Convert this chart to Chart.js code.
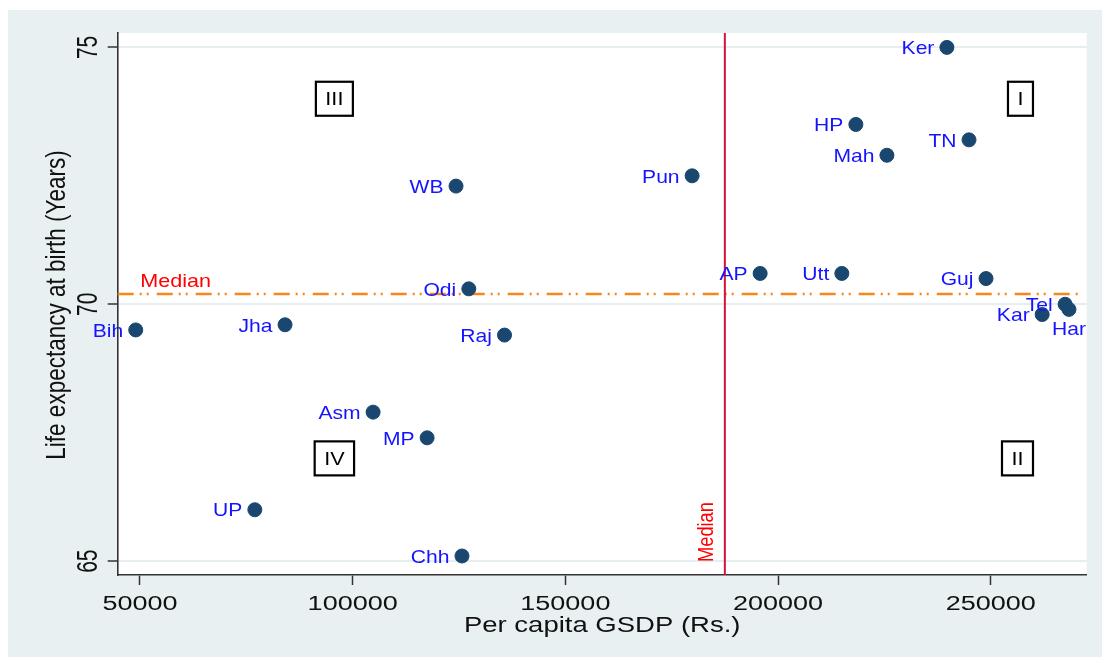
<!DOCTYPE html>
<html>
<head>
<meta charset="utf-8">
<script src="https://cdn.jsdelivr.net/npm/chart.js@4.4.0/dist/chart.umd.min.js"></script>
<style>
html,body{margin:0;padding:0;background:#ffffff;}
#wrap{width:1102px;height:657px;position:relative;}
</style>
</head>
<body>
<div id="wrap"><canvas id="c" width="1102" height="657"></canvas></div>
<script>
// ---------------- data ----------------
const states  = ['Ker','HP','TN','Mah','Pun','WB','AP','Utt','Guj','Odi','Tel','Har','Kar','Bih','Jha','Raj','Asm','MP','UP','Chh'];
const gsdp    = [239700,218300,244900,225600,179800,124300,195800,215000,248900,127300,267500,268400,262100,49000,84100,135700,104800,117500,77000,125700];
const lifeExp = [75.0,73.5,73.2,72.9,72.5,72.3,70.6,70.6,70.5,70.3,70.0,69.9,69.8,69.5,69.6,69.4,67.9,67.4,66.0,65.1];
const xTicks  = [50000,100000,150000,200000,250000];
const yTicks  = [65,70,75];
const medianGSDP = 187500;
const medianLE   = 70.2;
const quadrantNames = ['I','II','III','IV'];
const quadrantX     = [257000,256300,95700,95700];
const quadrantY     = [74,67,74,67];
const xTitle = 'Per capita GSDP (Rs.)';
const yTitle = 'Life expectancy at birth (Years)';
const medianText = 'Median';

// ---------------- drawing helpers ----------------
const FONT = '"Liberation Sans", Arial, Helvetica, sans-serif';
function drawText(ctx, text, x, y, o) {
  ctx.save();
  ctx.translate(x, y);
  ctx.scale(o.sx || 1, 1);
  if (o.rot) ctx.rotate(o.rot);
  ctx.font = (o.weight || 'normal') + ' ' + o.size + 'px ' + FONT;
  ctx.fillStyle = o.color;
  ctx.textAlign = o.align || 'left';
  ctx.textBaseline = o.baseline || 'alphabetic';
  ctx.fillText(text, 0, 0);
  ctx.restore();
}
function textWidth(ctx, text, size) {
  ctx.save();
  ctx.font = size + 'px ' + FONT;
  const w = ctx.measureText(text).width;
  ctx.restore();
  return w;
}

const belowLabels = new Set(['Har']);

const decor = {
  id: 'decor',
  beforeDraw(chart) {
    const ctx = chart.ctx, a = chart.chartArea;
    ctx.save();
    ctx.fillStyle = '#ffffff';
    ctx.fillRect(0, 0, chart.width, chart.height);
    ctx.fillStyle = '#e9f0f2';
    ctx.fillRect(8, 10, chart.width - 8, chart.height - 10);
    ctx.fillStyle = '#ffffff';
    ctx.fillRect(a.left, a.top, a.right - a.left, a.bottom - a.top);
    ctx.restore();
  },
  afterDraw(chart) {
    const ctx = chart.ctx, a = chart.chartArea;
    const xs = chart.scales.x, ys = chart.scales.y;
    // axis tick labels
    xs.ticks.forEach(t => {
      drawText(ctx, String(t.value), xs.getPixelForValue(t.value), 609.5,
        {size: 20, sx: 1.35, color: '#111111', align: 'center'});
    });
    ys.ticks.forEach(t => {
      drawText(ctx, String(t.value), 97, ys.getPixelForValue(t.value),
        {size: 21, sx: 1.42, color: '#111111', align: 'center', rot: -Math.PI / 2});
    });
    // axis titles
    drawText(ctx, xTitle, (a.left + a.right) / 2, 631.5,
      {size: 22, sx: 1.25, color: '#111111', align: 'center'});
    drawText(ctx, yTitle, 65, (a.top + a.bottom) / 2 + 1,
      {size: 22.5, sx: 1.24, color: '#111111', align: 'center', rot: -Math.PI / 2});
  },
  beforeDatasetsDraw(chart) {
    const ctx = chart.ctx, a = chart.chartArea;
    const xs = chart.scales.x, ys = chart.scales.y;
    // median of life expectancy (orange dash-dot)
    const py = ys.getPixelForValue(medianLE);
    ctx.save();
    ctx.strokeStyle = '#f7861c';
    ctx.lineWidth = 2.5;
    ctx.setLineDash([16, 6, 2, 5, 2, 8]);
    ctx.beginPath();
    ctx.moveTo(a.left, py);
    ctx.lineTo(a.right - 6, py);
    ctx.stroke();
    ctx.setLineDash([]);
    // median of GSDP (red vertical)
    const px = xs.getPixelForValue(medianGSDP);
    ctx.strokeStyle = '#d2143c';
    ctx.lineWidth = 2;
    ctx.beginPath();
    ctx.moveTo(px, a.top);
    ctx.lineTo(px, a.bottom);
    ctx.stroke();
    ctx.restore();
    drawText(ctx, medianText, a.left + 22.5, py - 7, {size: 17.7, sx: 1.22, color: '#ff0000'});
    drawText(ctx, medianText, px - 12, a.bottom - 13, {size: 18.3, sx: 1.2, color: '#ff0000', rot: -Math.PI / 2});
    // quadrant boxes
    quadrantNames.forEach((q, i) => {
      const cx = xs.getPixelForValue(quadrantX[i]);
      const cy = ys.getPixelForValue(quadrantY[i]);
      const w = textWidth(ctx, q, 18) * 1.2 + 19;
      const h = 34;
      ctx.save();
      ctx.fillStyle = '#ffffff';
      ctx.fillRect(cx - w / 2, cy - h / 2, w, h);
      ctx.strokeStyle = '#000000';
      ctx.lineWidth = 2.2;
      ctx.strokeRect(cx - w / 2, cy - h / 2, w, h);
      ctx.restore();
      drawText(ctx, q, cx, cy + 6.5, {size: 18, sx: 1.2, color: '#000000', align: 'center'});
    });
  },
  afterDatasetsDraw(chart) {
    const ctx = chart.ctx;
    const meta = chart.getDatasetMeta(0);
    meta.data.forEach((pt, i) => {
      const name = states[i];
      if (belowLabels.has(name)) {
        drawText(ctx, name, pt.x, pt.y + 26, {size: 18.5, sx: 1.14, color: '#1414ff', align: 'center'});
      } else {
        drawText(ctx, name, pt.x - 12.5, pt.y + 6.7, {size: 18.5, sx: 1.14, color: '#1414ff', align: 'right'});
      }
    });
  }
};

new Chart(document.getElementById('c'), {
  type: 'scatter',
  data: {
    datasets: [{
      data: gsdp.map((g, i) => ({x: g, y: lifeExp[i]})),
      backgroundColor: '#1a476f',
      borderColor: '#1a476f',
      borderWidth: 1,
      pointRadius: 7,
      pointHoverRadius: 7
    }]
  },
  options: {
    responsive: false,
    animation: false,
    devicePixelRatio: 1,
    events: [],
    layout: {padding: {top: 33, right: 15.3, bottom: 0, left: 0}},
    plugins: {legend: {display: false}, tooltip: {enabled: false}, title: {display: false}},
    scales: {
      x: {
        type: 'linear',
        min: 44760,
        max: 272570,
        afterBuildTicks: s => { s.ticks = xTicks.map(v => ({value: v})); },
        afterFit: s => { s.height = 82; },
        grid: {display: true, drawOnChartArea: false, drawTicks: true, tickLength: 10, tickColor: '#333333', tickWidth: 1.5, color: 'rgba(0,0,0,0)'},
        border: {display: true, color: '#333333', width: 1.6},
        ticks: {display: false},
        title: {display: false}
      },
      y: {
        type: 'linear',
        min: 64.73,
        max: 75.28,
        afterBuildTicks: s => { s.ticks = yTicks.map(v => ({value: v})); },
        afterFit: s => { s.width = 117.7; },
        grid: {display: true, drawOnChartArea: true, drawTicks: true, tickLength: 10, tickColor: '#333333', tickWidth: 1.5, color: '#e6eef1', lineWidth: 2},
        border: {display: true, color: '#333333', width: 1.6},
        ticks: {display: false},
        title: {display: false}
      }
    }
  },
  plugins: [decor]
});
</script>
</body>
</html>
